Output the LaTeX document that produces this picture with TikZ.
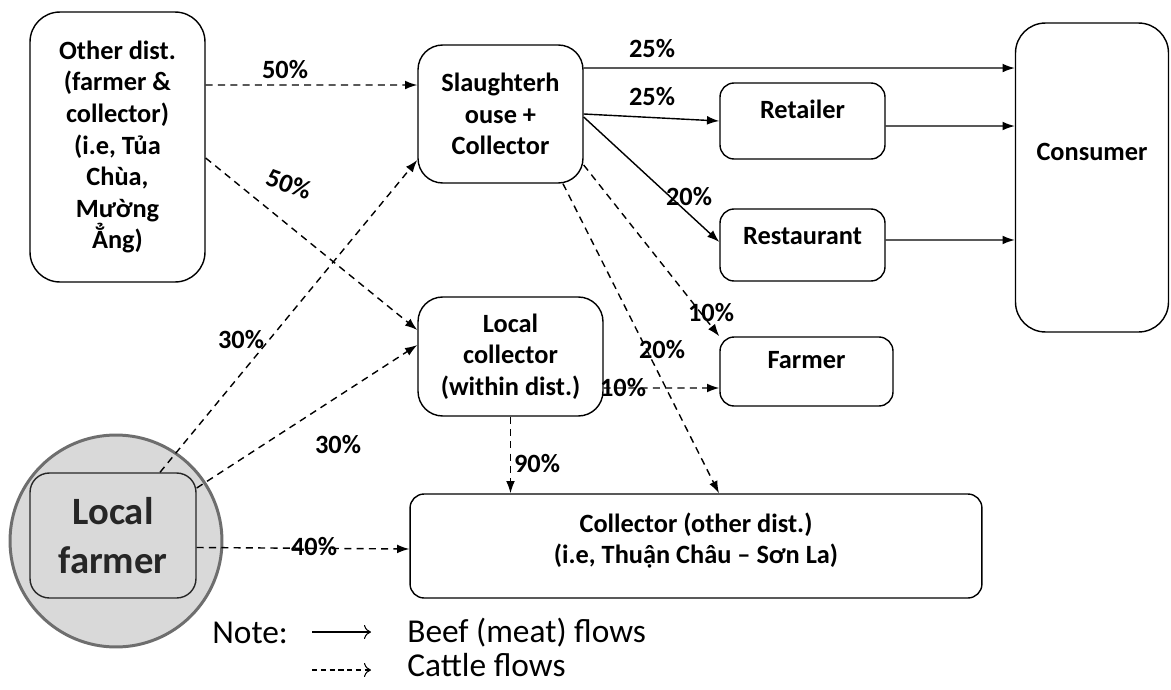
\documentclass[tikz,border=0pt]{standalone}
\usepackage{fontspec}
\setmainfont{Carlito}
\usetikzlibrary{arrows.meta}
\tikzset{
  box/.style={draw, rounded corners=#1, align=center, line width=0.8pt,
    font=\bfseries\fontsize{15}{18}\selectfont},
  box/.default=8pt,
  pct/.style={font=\bfseries\fontsize{15}{18}\selectfont, inner sep=0pt},
  beef/.style={-{Latex[length=7pt,width=5pt]}, line width=0.8pt},
  cattle/.style={beef, dash pattern=on 4pt off 3pt},
  notetext/.style={font=\fontsize{19}{23}\selectfont, anchor=west, inner sep=0pt}
}
\definecolor{farmgray}{HTML}{D9D9D9}
\definecolor{ringgray}{HTML}{6E6E6E}
\definecolor{inkgray}{HTML}{262626}

\begin{document}
\begin{tikzpicture}[x=0.02cm, y=-0.02cm]
  \useasboundingbox (0,0) rectangle (1171,690);

  % boxes
  \node[box=17pt, minimum width=3.5cm, minimum height=5.4cm] (oth) at (117.5,147)
    {Other dist.\\(farmer \&\\collector)\\(i.e, Tủa\\Chùa,\\Mường\\Ẳng)};
  \node[box=14pt, minimum width=3.3cm, minimum height=2.76cm] (sl) at (500.5,114)
    {Slaughterh\\ouse +\\Collector};
  \node[box, minimum width=3.3cm, minimum height=1.52cm, text depth=13pt] (ret) at (802.5,121) {Retailer};
  \node[box, minimum width=3.3cm, minimum height=1.44cm, text depth=10pt] (rest) at (802.5,245) {Restaurant};
  \node[box=17pt, minimum width=3.06cm, minimum height=6.18cm, text depth=29pt] (con) at (1092,177.5) {Consumer};
  \node[box, minimum width=3.46cm, minimum height=1.38cm, text depth=13pt] (fa) at (806.5,371.5) {Farmer};
  \node[box=14pt, minimum width=3.7cm, minimum height=2.38cm] (lc) at (510.5,356.5)
    {Local\\collector\\(within dist.)};
  \node[box, minimum width=11.44cm, minimum height=2.08cm, text depth=9pt] (co) at (696,546)
    {Collector (other dist.)\\(i.e, Thuận Châu – Sơn La)};

  % local farmer
  \node[circle, draw=ringgray, line width=1.7pt, fill=farmgray, minimum size=4.24cm] (circ) at (116,541) {};
  \node[draw=inkgray, fill=farmgray, rounded corners=11pt, line width=0.8pt, minimum width=3.32cm,
    minimum height=2.5cm, align=center, text=inkgray,
    font=\bfseries\fontsize{22}{28}\selectfont] (lf) at (113,535.5) {Local\\farmer};

  % cattle flows
  \draw[cattle] ([yshift=1.24cm]oth.east) -- ([yshift=0.58cm]sl.west);
  \draw[cattle] ([yshift=-0.22cm]oth.east) -- ([yshift=0.53cm]lc.west);
  \draw[cattle] ([xshift=0.94cm]lf.north) -- ([yshift=-0.92cm]sl.west);
  \draw[cattle] ([yshift=0.95cm]lf.east) -- ([yshift=0.23cm]lc.west);
  \draw[cattle] ([yshift=-0.24cm]lf.east) -- ([yshift=-0.06cm]co.west);
  \draw[cattle] ([yshift=-1.02cm]sl.east) -- (fa.north west);
  \draw[cattle] ([xshift=1.25cm]sl.south) -- ([xshift=0.46cm]co.north);
  \draw[cattle] ([yshift=-0.63cm]lc.east) -- ([yshift=-0.33cm]fa.west);
  \draw[cattle] (lc.south) -- (lc.south |- co.north);

  % beef flows
  \draw[beef] ([yshift=0.92cm]sl.east) -- ([yshift=2.19cm]con.west);
  \draw[beef] (sl.east) -- (ret.west);
  \draw[beef] ([yshift=-0.06cm]sl.east) -- ([yshift=0.06cm]rest.west);
  \draw[beef] ([yshift=-0.1cm]ret.east) -- ([yshift=1.03cm]con.west);
  \draw[beef] ([yshift=0.1cm]rest.east) -- ([yshift=-1.25cm]con.west);

  % shares
  \node[pct] (p1) at (285,70) {50\%};
  \node[pct, rotate=-20] (p2) at (289,184) {50\%};
  \node[pct] (p3) at (241,340) {30\%};
  \node[pct] (p4) at (338,445) {30\%};
  \node[pct] (p5) at (314,547) {40\%};
  \node[pct] (p6) at (652,49) {25\%};
  \node[pct] (p7) at (652,97) {25\%};
  \node[pct] (p8) at (689,197) {20\%};
  \node[pct] (p9) at (711,313) {10\%};
  \node[pct] (p10) at (662,350) {20\%};
  \node[pct] (p11) at (623,388) {10\%};
  \node[pct] (p12) at (537,464) {90\%};

  % note
  \node[notetext] (note) at (212,633) {Note:};
  \coordinate (b1) at (312,632);
  \coordinate (b2) at (371,632);
  \coordinate (c1) at (312,670);
  \coordinate (c2) at (371,670);
  \draw[-{To[length=4pt,width=8pt]}, line width=0.6pt] (b1) -- (b2);
  \draw[-{To[length=4pt,width=8pt]}, line width=0.6pt, dash pattern=on 3pt off 2pt] (c1) -- (c2);
  \node[notetext] (beeftxt) at (407,633) {Beef (meat) flows};
  \node[notetext] (cattletxt) at (407,665) {Cattle flows};
\end{tikzpicture}
\end{document}
